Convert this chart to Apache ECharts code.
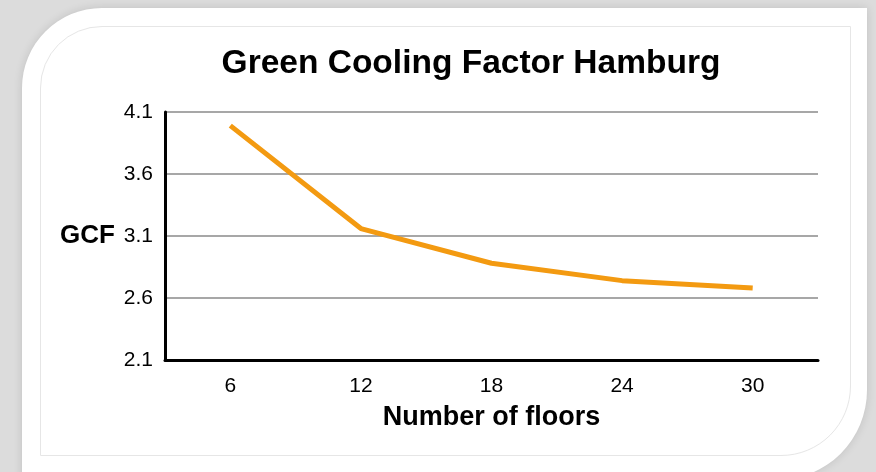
<!DOCTYPE html>
<html>
<head>
<meta charset="utf-8">
<script src="https://cdn.jsdelivr.net/npm/echarts@6/dist/echarts.min.js"></script>
<style>
html,body{margin:0;padding:0;width:876px;height:472px;overflow:hidden;background:#dcdcdc;}
#card{position:absolute;left:22px;top:8px;width:845px;height:472px;background:#fff;border-radius:80px 0 90px 0;box-shadow:0 0 10px rgba(0,0,0,0.12);}
#inner{position:absolute;left:40px;top:26px;width:809px;height:428px;border:1px solid #e6e6e6;border-radius:62px 0 70px 0;}
#chart{position:absolute;left:0;top:0;width:876px;height:472px;}
</style>
</head>
<body>
<div id="card"></div>
<div id="inner"></div>
<div id="chart"></div>
<script>
const categories = ['6', '12', '18', '24', '30'];
const gcfValues = [3.99, 3.16, 2.88, 2.74, 2.68];
const yTicks = [2.1, 2.6, 3.1, 3.6, 4.1];

const chart = echarts.init(document.getElementById('chart'), null, {renderer: 'canvas'});
const font = '"Liberation Sans", Arial, sans-serif';
chart.setOption({
  backgroundColor: 'transparent',
  animation: false,
  title: {
    text: 'Green Cooling Factor Hamburg',
    left: 466,
    textAlign: 'center',
    top: 42,
    textStyle: {fontFamily: font, fontSize: 33.5, fontWeight: 'bold', color: '#000'}
  },
  grid: {left: 165, right: 58, top: 112, bottom: 112},
  xAxis: {
    type: 'category',
    data: categories,
    boundaryGap: true,
    name: 'Number of floors',
    nameLocation: 'middle',
    nameGap: 44,
    nameTextStyle: {fontFamily: font, fontSize: 27, fontWeight: 'bold', color: '#000'},
    axisLine: {lineStyle: {color: '#000', width: 3}},
    axisTick: {show: false},
    axisLabel: {fontFamily: font, fontSize: 21, color: '#000', margin: 16}
  },
  yAxis: {
    type: 'value',
    min: 2.1,
    max: 4.1,
    name: 'GCF',
    nameLocation: 'middle',
    nameRotate: 0,
    nameGap: 50,
    nameTextStyle: {fontFamily: font, fontSize: 26, fontWeight: 'bold', color: '#000', align: 'right'},
    axisLine: {show: true, lineStyle: {color: '#000', width: 3}},
    axisTick: {show: false, customValues: yTicks},
    axisLabel: {fontFamily: font, fontSize: 21, color: '#000', margin: 12, customValues: yTicks,
      formatter: v => v.toFixed(1)},
    splitLine: {show: true, customValues: yTicks, lineStyle: {color: '#8a8a8a', width: 1.5}}
  },
  series: [{
    type: 'line',
    data: gcfValues,
    symbol: 'none',
    lineStyle: {color: '#F39A11', width: 5},
    itemStyle: {color: '#F39A11'}
  }]
});
</script>
</body>
</html>
